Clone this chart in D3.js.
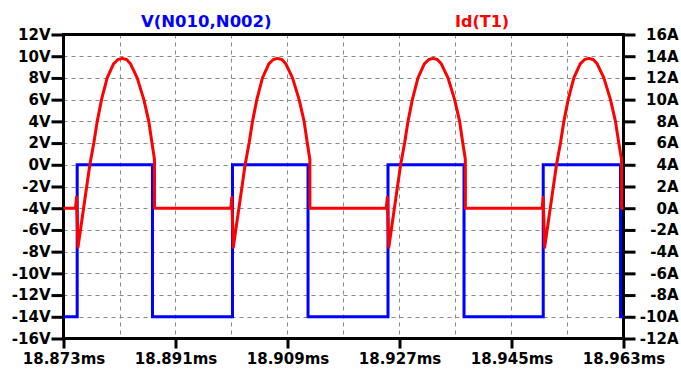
<!DOCTYPE html>
<html>
<head>
<meta charset="utf-8">
<script src="https://cdn.jsdelivr.net/npm/d3@7"></script>
<style>
  body { margin: 0; background: #fff; }
  text { font-family: "DejaVu Sans", Verdana, sans-serif; font-weight: bold; }
</style>
</head>
<body>
<div id="chart"></div>
<script>
// ---- data ----
var xTickValues = [18.873, 18.891, 18.909, 18.927, 18.945, 18.963];
var xTickLabels = ["18.873ms", "18.891ms", "18.909ms", "18.927ms", "18.945ms", "18.963ms"];
var xGridValues = [18.882, 18.891, 18.900, 18.909, 18.918, 18.927, 18.936, 18.945, 18.954];
var vTicks = [-16, -14, -12, -10, -8, -6, -4, -2, 0, 2, 4, 6, 8, 10, 12];
var aTicks = [-12, -10, -8, -6, -4, -2, 0, 2, 4, 6, 8, 10, 12, 14, 16];

// V(N010,N002) in volts
var vTime = [18.87300, 18.87520, 18.87520, 18.88730, 18.88730,
             18.90016, 18.90016, 18.91230, 18.91230,
             18.92515, 18.92515, 18.93737, 18.93737,
             18.95010, 18.95010, 18.96252, 18.96252, 18.96300];
var vValue = [-14, -14, 0, 0, -14,
              -14, 0, 0, -14,
              -14, 0, 0, -14,
              -14, 0, 0, -14, -14];

// Id(T1) in amps
var iTime = [18.87300,
  18.87493, 18.87509, 18.87533, 18.87723, 18.87787, 18.87842, 18.87911, 18.88002, 18.88104, 18.88176,
  18.88243, 18.88313, 18.88377, 18.88484, 18.88591, 18.88671, 18.88722, 18.88762, 18.88764,
  18.89989, 18.90005, 18.90029, 18.90219, 18.90283, 18.90338, 18.90407, 18.90498, 18.90600, 18.90672,
  18.90739, 18.90809, 18.90873, 18.90980, 18.91087, 18.91167, 18.91218, 18.91259, 18.91260,
  18.92488, 18.92504, 18.92528, 18.92718, 18.92782, 18.92837, 18.92906, 18.92997, 18.93099, 18.93171,
  18.93238, 18.93308, 18.93372, 18.93479, 18.93586, 18.93666, 18.93717, 18.93758, 18.93759,
  18.94993, 18.95009, 18.95033, 18.95223, 18.95287, 18.95342, 18.95411, 18.95502, 18.95604, 18.95676,
  18.95743, 18.95813, 18.95877, 18.95984, 18.96091, 18.96171, 18.96224, 18.96268, 18.96270,
  18.96300];
var iValue = [0,
  0, 1.0, -3.6, 4.0, 6.0, 8.0, 10.0, 12.0, 13.3, 13.7,
  13.8, 13.7, 13.3, 12.0, 10.0, 8.0, 6.0, 4.5, 0,
  0, 1.0, -3.6, 4.0, 6.0, 8.0, 10.0, 12.0, 13.3, 13.7,
  13.8, 13.7, 13.3, 12.0, 10.0, 8.0, 6.0, 4.5, 0,
  0, 1.0, -3.6, 4.0, 6.0, 8.0, 10.0, 12.0, 13.3, 13.7,
  13.8, 13.7, 13.3, 12.0, 10.0, 8.0, 6.0, 4.5, 0,
  0, 1.0, -3.6, 4.0, 6.0, 8.0, 10.0, 12.0, 13.3, 13.7,
  13.8, 13.7, 13.3, 12.0, 10.0, 8.0, 6.0, 4.5, 0,
  0];

var w = 681, h = 369;
var plotL = 63.5, plotR = 623.5, plotT = 34.5, plotB = 338.5;

var svg = d3.select("#chart").append("svg")
  .attr("width", w)
  .attr("height", h);

var x = d3.scaleLinear().domain([18.873, 18.963]).range([plotL, plotR]);
var yV = d3.scaleLinear().domain([-16, 12]).range([plotB, plotT]);
var yA = d3.scaleLinear().domain([-12, 16]).range([plotB, plotT]);

// grid
svg.append("g").selectAll("line.vgrid")
  .data(xGridValues).enter().append("line")
  .attr("x1", function(d){ return Math.round(x(d)) + 0.5; })
  .attr("x2", function(d){ return Math.round(x(d)) + 0.5; })
  .attr("y1", plotT).attr("y2", plotB)
  .attr("stroke", "#888").attr("stroke-dasharray", "4,4");

svg.append("g").selectAll("line.hgrid")
  .data(vTicks.slice(1, -1)).enter().append("line")
  .attr("x1", plotL).attr("x2", plotR)
  .attr("y1", function(d){ return Math.round(yV(d)) + 0.5; })
  .attr("y2", function(d){ return Math.round(yV(d)) + 0.5; })
  .attr("stroke", "#888").attr("stroke-dasharray", "4,4");

// axes
var axisL = d3.axisLeft(yV).tickValues(vTicks)
  .tickFormat(function(d){ return d + "V"; })
  .tickSize(12).tickPadding(1);
var axisR = d3.axisRight(yA).tickValues(aTicks)
  .tickFormat(function(d){ return d + "A"; })
  .tickSize(12).tickPadding(1);
var axisB = d3.axisBottom(x).tickValues(xTickValues)
  .tickFormat(function(d, i){ return xTickLabels[i]; })
  .tickSize(10).tickPadding(5);

function styleAxis(g) {
  g.select(".domain").remove();
  g.selectAll(".tick line").attr("stroke", "#000").attr("stroke-width", 3);
  g.selectAll(".tick text").attr("fill", "#000")
    .style("font-size", "15px").style("font-weight", "bold")
    .style("font-family", "'DejaVu Sans', Verdana, sans-serif");
}

svg.append("g").attr("transform", "translate(" + plotL + ",0)").call(axisL).call(styleAxis);
var gR = svg.append("g").attr("transform", "translate(" + plotR + ",0)").call(axisR).call(styleAxis);
gR.selectAll(".tick text").attr("text-anchor", "end").attr("x", 55);
svg.append("g").attr("transform", "translate(0," + plotB + ")").call(axisB).call(styleAxis);

// frame
svg.append("rect")
  .attr("x", plotL).attr("y", plotT)
  .attr("width", plotR - plotL).attr("height", plotB - plotT)
  .attr("fill", "none").attr("stroke", "#000").attr("stroke-width", 3);

// traces
var lineV = d3.line()
  .x(function(d){ return x(vTime[d]); })
  .y(function(d){ return yV(vValue[d]); });
var lineI = d3.line()
  .x(function(d){ return x(iTime[d]); })
  .y(function(d){ return yA(iValue[d]); });

svg.append("path")
  .attr("d", lineV(d3.range(vTime.length)))
  .attr("fill", "none").attr("stroke", "#0000ff").attr("stroke-width", 3);
svg.append("path")
  .attr("d", lineI(d3.range(iTime.length)))
  .attr("fill", "none").attr("stroke", "#ff0000").attr("stroke-width", 3)
  .attr("stroke-linejoin", "round");

// titles
svg.append("text").attr("x", 141).attr("y", 27)
  .style("font-size", "16.5px")
  .attr("fill", "#0000ff")
  .text("V(N010,N002)");
svg.append("text").attr("x", 455).attr("y", 27)
  .style("font-size", "16px")
  .attr("fill", "#ff0000")
  .text("Id(T1)");
</script>
</body>
</html>
